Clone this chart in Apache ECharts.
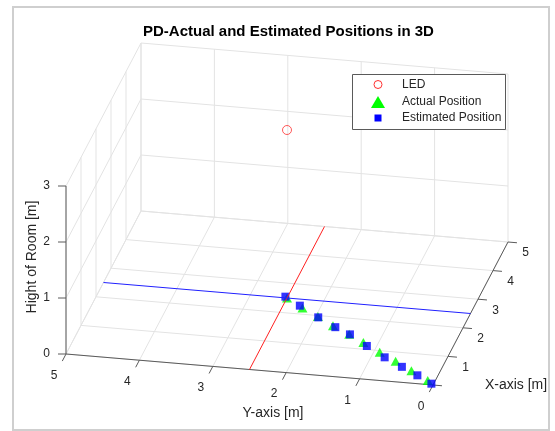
<!DOCTYPE html>
<html><head><meta charset="utf-8">
<script src="https://cdn.jsdelivr.net/npm/echarts@6/dist/echarts.min.js"></script>
<style>html,body{margin:0;padding:0;background:#fff}#c{width:555px;height:431px}</style>
</head><body><div id="c"></div>
<script>
// ---------------- data ----------------
const titleText = 'PD-Actual and Estimated Positions in 3D';
const xTicks = [1, 2, 3, 4, 5];
const yTicks = [0, 1, 2, 3, 4, 5];
const zTicks = [0, 1, 2, 3];
const xLabelText = 'X-axis [m]';
const yLabelText = 'Y-axis [m]';
const zLabelText = 'Hight of Room [m]';
const ledPos = [2.5, 2.5, 3];
const redLineX = [0, 5], redLineY = [2.5, 2.5], redLineZ = [0, 0];
const blueLineX = [2.5, 2.5], blueLineY = [0, 5], blueLineZ = [0, 0];
const actualX = [2.50, 2.21, 1.97, 1.70, 1.46, 1.23, 0.95, 0.69, 0.42, 0.14];
const actualY = [2.50, 2.23, 1.97, 1.71, 1.44, 1.20, 0.92, 0.65, 0.38, 0.10];
const actualZ = [0, 0, 0, 0, 0, 0, 0, 0, 0, 0];
const estX = [2.54, 2.28, 1.94, 1.66, 1.46, 1.12, 0.79, 0.52, 0.28, 0.04];
const estY = [2.53, 2.28, 1.96, 1.67, 1.43, 1.13, 0.82, 0.53, 0.27, 0.03];
const estZ = [0, 0, 0, 0, 0, 0, 0, 0, 0, 0];
const legendNames = ['LED', 'Actual Position', 'Estimated Position'];
const xRange = [0, 5], yRange = [0, 5], zRange = [0, 3];

// ---------------- view (orthographic projection) ----------------
const VIEW = { ox: 433, oy: 385, ex: [15, -28.6], ey: [-73.4, -6.2], ez: [0, -56] };
function P(x, y, z) {
  return [VIEW.ox + x * VIEW.ex[0] + y * VIEW.ey[0] + z * VIEW.ez[0],
          VIEW.oy + x * VIEW.ex[1] + y * VIEW.ey[1] + z * VIEW.ez[1]];
}
const FONT = "'Liberation Sans', Arial, Helvetica, sans-serif";
const TXT = '#262626';

// grid segments
const gridSegs = [];
for (let i = xRange[0]; i <= xRange[1]; i++) {
  gridSegs.push([P(i, yRange[0], 0), P(i, yRange[1], 0)]);
  gridSegs.push([P(i, yRange[1], zRange[0]), P(i, yRange[1], zRange[1])]);
}
for (let j = yRange[0]; j <= yRange[1]; j++) {
  gridSegs.push([P(xRange[0], j, 0), P(xRange[1], j, 0)]);
  gridSegs.push([P(xRange[1], j, zRange[0]), P(xRange[1], j, zRange[1])]);
}
for (let k = zRange[0]; k <= zRange[1]; k++) {
  gridSegs.push([P(xRange[1], yRange[0], k), P(xRange[1], yRange[1], k)]);
  gridSegs.push([P(xRange[0], yRange[1], k), P(xRange[1], yRange[1], k)]);
}
// axis lines
const axisSegs = [
  [P(0, 0, 0), P(0, 5, 0)],
  [P(0, 0, 0), P(5, 0, 0)],
  [P(0, 5, 0), P(0, 5, 3)]
];
function nrm(v) { const l = Math.hypot(v[0], v[1]); return [v[0] / l, v[1] / l]; }
const dxT = nrm([-VIEW.ey[0], -VIEW.ey[1]]);
const dyT = nrm([-VIEW.ex[0], -VIEW.ex[1]]);
xTicks.concat([0]).forEach(t => { const a = P(t, 0, 0); axisSegs.push([a, [a[0] + dxT[0] * 9, a[1] + dxT[1] * 9]]); });
yTicks.forEach(t => { const a = P(0, t, 0); axisSegs.push([a, [a[0] + dyT[0] * 8, a[1] + dyT[1] * 8]]); });
zTicks.forEach(t => { const a = P(0, 5, t); axisSegs.push([a, [a[0] - 8, a[1]]]); });

function segSeries(segs, color, width) {
  return {
    type: 'custom', silent: true, animation: false,
    data: segs.map(s => [s[0][0], s[0][1], s[1][0], s[1][1]]),
    encode: { x: [0, 2], y: [1, 3] },
    renderItem: (params, api) => {
      const a = api.coord([api.value(0), api.value(1)]);
      const b = api.coord([api.value(2), api.value(3)]);
      return { type: 'line', shape: { x1: a[0], y1: a[1], x2: b[0], y2: b[1] },
               style: { stroke: color, lineWidth: width } };
    }
  };
}
function textSeries(items, font) {
  return {
    type: 'custom', silent: true, animation: false,
    data: items.map(it => [it.p[0], it.p[1]]),
    encode: { x: 0, y: 1 },
    renderItem: (params, api) => {
      const p = api.coord([api.value(0), api.value(1)]);
      const it = items[params.dataIndex];
      return { type: 'text', x: p[0], y: p[1], rotation: it.rot || 0,
               style: { text: it.t, font: font, fill: TXT, align: it.align || 'center', verticalAlign: 'middle' } };
    }
  };
}
const tickItems = [];
xTicks.forEach(t => { const a = P(t, 0, 0); tickItems.push({ p: [a[0] + 17.5, a[1] + 11], t: String(t) }); });
yTicks.forEach(t => { const a = P(0, t, 0); tickItems.push({ p: [a[0] - 12, a[1] + 21.5], t: String(t) }); });
zTicks.forEach(t => { const a = P(0, 5, t); tickItems.push({ p: [a[0] - 16, a[1]], t: String(t), align: 'right' }); });

const axisLabelItems = [
  { p: (a => [a[0] + 83, a[1]])(P(0, 0, 0)), t: xLabelText },
  { p: (a => [a[0] + 23.5, a[1] + 43.5])(P(0, 2.5, 0)), t: yLabelText },
  { p: (a => [a[0] - 34, a[1] - 13])(P(0, 5, 1.5)), t: zLabelText, rot: Math.PI / 2 }
];

function pts(xs, ys, zs) { return xs.map((x, i) => P(x, ys[i], zs[i])); }

const LZ = 100;
const option = {
  animation: false,
  title: { text: titleText, left: 143, top: 24, padding: 0,
           textStyle: { fontFamily: FONT, fontSize: 15, fontWeight: 'bold', color: '#000' } },
  grid: { left: 0, right: 0, top: 0, bottom: 0 },
  xAxis: { type: 'value', min: 0, max: 555, show: false },
  yAxis: { type: 'value', min: 0, max: 431, inverse: true, show: false },
  series: [
    segSeries(gridSegs, '#e3e3e3', 1),
    segSeries(axisSegs, '#5a5a5a', 1),
    { type: 'line', name: 'redLine', data: pts(redLineX, redLineY, redLineZ), symbol: 'none',
      lineStyle: { color: '#ff2020', width: 1 }, silent: true },
    { type: 'line', name: 'blueLine', data: pts(blueLineX, blueLineY, blueLineZ), symbol: 'none',
      lineStyle: { color: '#2020ff', width: 1 }, silent: true },
    { type: 'scatter', name: legendNames[0], data: [P(ledPos[0], ledPos[1], ledPos[2])], symbol: 'circle', symbolSize: 9,
      itemStyle: { color: 'rgba(0,0,0,0)', borderColor: '#ff3030', borderWidth: 1 } },
    { type: 'scatter', name: legendNames[1], data: pts(actualX, actualY, actualZ), symbol: 'triangle', symbolSize: [10, 9],
      itemStyle: { color: '#00ff00' } },
    { type: 'scatter', name: legendNames[2], data: pts(estX, estY, estZ), symbol: 'rect', symbolSize: 8,
      itemStyle: { color: '#0000ff' } },
    textSeries(tickItems, '12px ' + FONT),
    textSeries(axisLabelItems, '14px ' + FONT)
  ],
  graphic: [
    { type: 'rect', z: LZ, shape: { x: 13, y: 7, width: 536, height: 423 }, style: { fill: 'none', stroke: '#cfcfcf', lineWidth: 2 } },
    { type: 'rect', z: LZ, shape: { x: 352.5, y: 74.5, width: 153, height: 55 }, style: { fill: '#fff', stroke: '#5a5a5a', lineWidth: 1 } },
    { type: 'circle', z: LZ + 1, shape: { cx: 378, cy: 84.5, r: 4 }, style: { fill: 'none', stroke: '#ff3030', lineWidth: 1 } },
    { type: 'polygon', z: LZ + 1, shape: { points: [[378, 96], [385, 108], [371, 108]] }, style: { fill: '#00ff00' } },
    { type: 'rect', z: LZ + 1, shape: { x: 374.5, y: 114.5, width: 7, height: 7 }, style: { fill: '#0000ff' } },
    { type: 'text', z: LZ + 1, x: 402, y: 84.5, style: { text: legendNames[0], font: '12px ' + FONT, fill: TXT, verticalAlign: 'middle' } },
    { type: 'text', z: LZ + 1, x: 402, y: 101.5, style: { text: legendNames[1], font: '12px ' + FONT, fill: TXT, verticalAlign: 'middle' } },
    { type: 'text', z: LZ + 1, x: 402, y: 118, style: { text: legendNames[2], font: '12px ' + FONT, fill: TXT, verticalAlign: 'middle' } }
  ]
};
const chart = echarts.init(document.getElementById('c'), null, { renderer: 'canvas' });
chart.setOption(option);
</script>
</body></html>
